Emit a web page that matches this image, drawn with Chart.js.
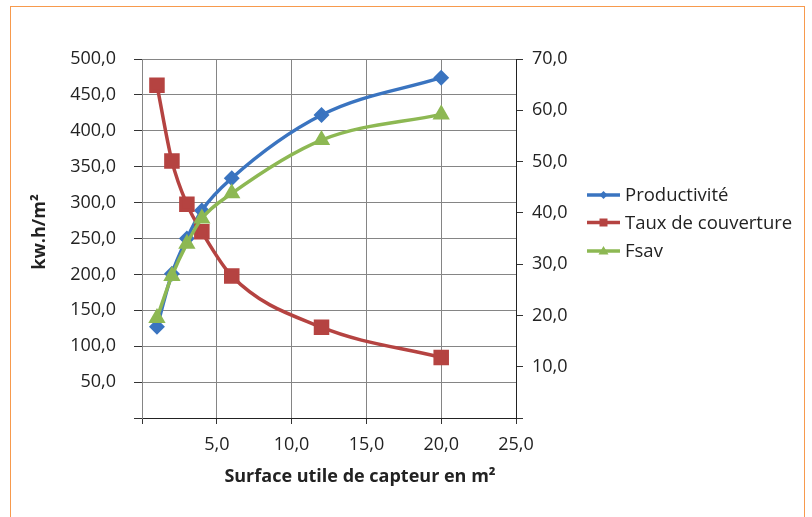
<!DOCTYPE html>
<html>
<head>
<meta charset="utf-8">
<script src="https://cdn.jsdelivr.net/npm/chart.js@4/dist/chart.umd.min.js"></script>
<style>
    html, body { margin: 0; padding: 0; background: #fff; overflow: hidden; }
    #frame {
        position: absolute; left: 10px; top: 6px; width: 795px; height: 530px;
        border: 1.5px solid #F79A4D; border-bottom: none; box-sizing: border-box;
    }
    #wrap { position: absolute; left: 0; top: 0; width: 812px; height: 517px; }
</style>
</head>
<body>
<div id="frame"></div>
<div id="wrap"><canvas id="chart"></canvas></div>
<script>
// Data
const surfaces = [1, 2, 3, 4, 6, 12, 20];
const productivite = [127, 201, 250, 289, 334, 422, 474];
const tauxCouverture = [64.9, 50.1, 41.7, 36.3, 27.7, 17.7, 11.8];
const fsav = [19.5, 27.7, 34.0, 38.9, 43.8, 54.2, 59.2];

const seriesNames = ['Productivité', 'Taux de couverture', 'Fsav'];
const xTitle = 'Surface utile de capteur en m²';
const yTitle = 'kw.h/m²';

const blue = '#3A74C0';
const red = '#B54341';
const green = '#8DB853';
const gridColor = '#858585';
const textColor = '#222';
const family = '"Open Sans", "Noto Sans", sans-serif';

function toPoints(xs, ys) {
    return xs.map((x, i) => ({ x: x, y: ys[i] }));
}

function fmt(v) {
    return v === 0 ? '' : v.toFixed(1).replace('.', ',');
}

// legend marker drawing
function drawMarker(ctx, style, x, y, r) {
    ctx.beginPath();
    if (style === 'rectRot') {
        ctx.moveTo(x, y - r); ctx.lineTo(x + r, y); ctx.lineTo(x, y + r); ctx.lineTo(x - r, y);
    } else if (style === 'rect') {
        ctx.rect(x - r, y - r, 2 * r, 2 * r);
    } else {
        ctx.moveTo(x, y - r); ctx.lineTo(x + r, y + r * 0.7); ctx.lineTo(x - r, y + r * 0.7);
    }
    ctx.closePath();
    ctx.fill();
}

const extras = {
    id: 'extras',
    afterDraw(chart) {
        const ctx = chart.ctx;
        ctx.save();
        ctx.fillStyle = textColor;
        ctx.font = 'bold 18px ' + family;
        ctx.textAlign = 'center';
        ctx.textBaseline = 'middle';
        ctx.fillText(xTitle, 360, 477);
        ctx.save();
        ctx.translate(40, 232);
        ctx.rotate(-Math.PI / 2);
        ctx.fillText(yTitle, 0, 0);
        ctx.restore();

        // legend
        const rows = [195, 222.5, 251];
        const sizes = { rectRot: 4, rect: 4, triangle: 5 };
        chart.data.datasets.forEach((ds, i) => {
            const y = rows[i];
            ctx.strokeStyle = ds.borderColor;
            ctx.lineWidth = 3.5;
            ctx.beginPath();
            ctx.moveTo(587, y);
            ctx.lineTo(620, y);
            ctx.stroke();
            ctx.fillStyle = ds.borderColor;
            drawMarker(ctx, ds.pointStyle, 603.5, y, sizes[ds.pointStyle]);
            ctx.fillStyle = textColor;
            ctx.font = '18.5px ' + family;
            ctx.textAlign = 'left';
            ctx.fillText(ds.label, 625, y + 1);
        });
        ctx.restore();
    }
};

const ctx = document.getElementById('chart').getContext('2d');
const chart = new Chart(ctx, {
    type: 'line',
    data: {
        datasets: [{
            label: seriesNames[0],
            data: toPoints(surfaces, productivite),
            yAxisID: 'y',
            borderColor: blue,
            backgroundColor: blue,
            borderWidth: 3.5,
            cubicInterpolationMode: 'monotone',
            pointStyle: 'rectRot',
            pointRadius: 5.5,
            order: 3
        }, {
            label: seriesNames[1],
            data: toPoints(surfaces, tauxCouverture),
            yAxisID: 'y1',
            borderColor: red,
            backgroundColor: red,
            borderWidth: 3.5,
            cubicInterpolationMode: 'monotone',
            pointStyle: 'rect',
            pointRadius: 8.5,
            order: 2
        }, {
            label: seriesNames[2],
            data: toPoints(surfaces, fsav),
            yAxisID: 'y1',
            borderColor: green,
            backgroundColor: green,
            borderWidth: 3.5,
            cubicInterpolationMode: 'monotone',
            pointStyle: 'triangle',
            pointRadius: 6.5,
            order: 1
        }]
    },
    options: {
        responsive: true,
        maintainAspectRatio: false,
        animation: false,
        layout: { padding: { top: 59, left: 0, right: 0, bottom: 0 } },
        plugins: {
            legend: { display: false },
            tooltip: { enabled: false }
        },
        scales: {
            x: {
                type: 'linear',
                min: 0,
                max: 25,
                ticks: {
                    stepSize: 5,
                    callback: fmt,
                    color: textColor,
                    font: { size: 18, family: family },
                    padding: 10,
                    maxRotation: 0
                },
                grid: { color: gridColor, tickColor: '#333', tickLength: 6 },
                border: { color: '#222' },
                afterFit: function(scale) { scale.height = 99; }
            },
            y: {
                position: 'left',
                min: 0,
                max: 500,
                ticks: {
                    stepSize: 50,
                    callback: fmt,
                    color: textColor,
                    font: { size: 18, family: family },
                    padding: 18
                },
                grid: { color: gridColor, tickColor: '#333', tickLength: 8 },
                border: { color: gridColor },
                afterFit: function(scale) { scale.width = 142; }
            },
            y1: {
                position: 'right',
                min: 0,
                max: 70,
                ticks: {
                    stepSize: 10,
                    callback: fmt,
                    color: textColor,
                    font: { size: 18, family: family },
                    padding: 9
                },
                grid: { drawOnChartArea: false, tickColor: '#333', tickLength: 7 },
                border: { color: '#222' },
                afterFit: function(scale) { scale.width = 296; }
            }
        }
    },
    plugins: [extras]
});
</script>
</body>
</html>
